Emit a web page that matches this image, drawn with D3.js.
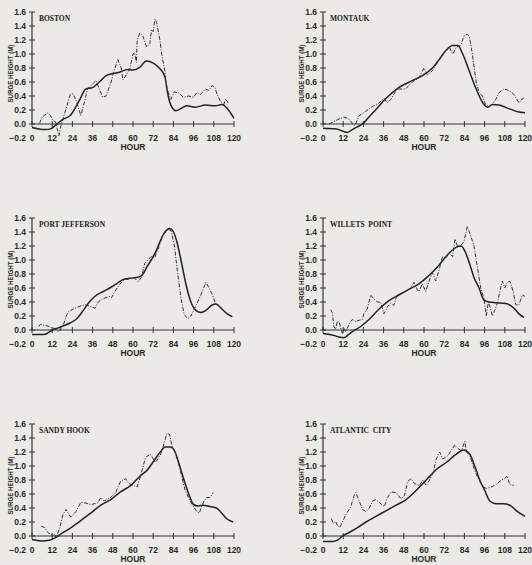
<!DOCTYPE html>
<html>
  <head>
    <meta http-equiv="Content-Type" content="text/html;charset=utf-8">
    <title>Surge height</title>
    <script src="https://d3js.org/d3.v7.min.js"></script>
    <style>
      html, body {
        margin: 0;
        padding: 0;
        background: #ebeae7;
      }
      svg { display: block; }
      .tick-label {
        font-family: "Liberation Sans", Arial, sans-serif;
        font-weight: bold;
        font-size: 8.5px;
        fill: #2a2a2a;
      }
      .title {
        font-family: "Liberation Serif", "Times New Roman", serif;
        font-weight: bold;
        font-size: 7.5px;
        fill: #222;
      }
      .computed {
        stroke: #222;
        stroke-width: 1.5px;
        fill: none;
      }
      .observed {
        stroke: #333;
        stroke-width: 1px;
        fill: none;
        stroke-dasharray: 4 1.5 1 1.5;
      }
    </style>
  </head>
  <body>
<script type="text/javascript">

var stations = ["BOSTON", "MONTAUK", "PORT JEFFERSON", "WILLETS  POINT", "SANDY HOOK", "ATLANTIC  CITY"];
var hourTicks = [0, 12, 24, 36, 48, 60, 72, 84, 96, 108, 120];
var heightTicks = [-0.2, 0.0, 0.2, 0.4, 0.6, 0.8, 1.0, 1.2, 1.4, 1.6];

// [hour, surge height] -- solid = computed, dash-dot = observed
var bostonComputed = [[0,-0.05],[4,-0.07],[8,-0.08],[11,-0.07],[14.4,-0.01],[18,0.06],[23,0.13],[28,0.33],[32,0.5],[36,0.52],[40,0.6],[44,0.69],[48,0.72],[52,0.74],[57,0.78],[60,0.77],[64,0.81],[68,0.9],[72,0.87],[76,0.79],[79,0.67],[80.5,0.45],[82.5,0.27],[85.5,0.19],[88.4,0.22],[92,0.26],[97,0.24],[103,0.27],[109,0.26],[113,0.28],[116,0.22],[120,0.08]];
var bostonObserved = [[4.5,0.01],[6,0.1],[9.5,0.16],[11,0.12],[12.4,0.05],[14,0.03],[16,-0.17],[17.4,0.0],[20,0.2],[22.7,0.42],[24.3,0.43],[26,0.35],[28,0.2],[29,0.12],[31,0.3],[33,0.5],[35,0.55],[38,0.62],[40,0.5],[42,0.38],[44,0.4],[47,0.6],[49,0.78],[51,0.92],[53,0.8],[54,0.63],[56,0.7],[58,0.78],[60,1.0],[61,1.02],[62,0.88],[62.5,1.2],[64,1.3],[66,1.25],[68,1.1],[70,1.15],[71,1.35],[72,1.32],[73,1.5],[74,1.45],[76,1.2],[77,1.0],[79,0.75],[79.5,0.6],[81,0.45],[82.5,0.35],[84.5,0.46],[87.4,0.44],[90,0.38],[93,0.4],[96,0.38],[98,0.45],[100,0.42],[103,0.5],[105,0.48],[107,0.55],[108.7,0.52],[110,0.42],[112,0.32],[114,0.28],[115,0.36],[116.6,0.3]];

var montaukComputed = [[0,-0.06],[8,-0.07],[11.5,-0.1],[14.5,-0.12],[17.4,-0.08],[20.4,-0.04],[23.4,0.0],[27.3,0.1],[32.3,0.23],[37.2,0.36],[45,0.52],[53,0.62],[59,0.69],[65,0.8],[69,0.92],[73,1.05],[77,1.12],[80,1.12],[83,1.0],[87,0.75],[91,0.5],[95,0.3],[98,0.24],[100.6,0.28],[104.5,0.27],[110.5,0.22],[116.4,0.17],[120,0.16]];
var montaukObserved = [[3.6,0.0],[8.5,0.06],[12.5,0.1],[15.4,0.07],[18.4,-0.02],[19.4,0.0],[21.4,0.12],[23.4,0.15],[25.3,0.18],[29.3,0.25],[33.3,0.3],[36.2,0.37],[38.2,0.3],[40.2,0.35],[44,0.5],[49,0.5],[53,0.6],[57,0.66],[60,0.8],[62,0.7],[65,0.76],[69,0.92],[73,1.05],[75,1.1],[77.2,1.0],[79.2,1.1],[81.8,1.12],[83.8,1.26],[85.7,1.28],[87,1.25],[88.7,1.0],[91,0.6],[92.7,0.45],[94.7,0.4],[96.6,0.28],[98.6,0.25],[100.6,0.28],[102.6,0.35],[104.6,0.45],[107.5,0.5],[110.5,0.48],[113.5,0.42],[116.4,0.3],[118.4,0.36],[120,0.38]];

var portJeffersonComputed = [[0,-0.065],[6.9,-0.065],[8.9,-0.05],[10.8,-0.02],[12.8,0.01],[15.7,0.03],[18.7,0.06],[22.6,0.1],[26.6,0.16],[30.5,0.28],[34.4,0.41],[38.4,0.5],[42.3,0.55],[46.2,0.6],[50.2,0.66],[54,0.72],[58,0.74],[62,0.75],[64,0.76],[66,0.8],[68,0.89],[70.8,1.0],[73.8,1.13],[76.7,1.3],[79.7,1.42],[81.6,1.45],[83.6,1.42],[85.6,1.3],[88.5,1.0],[91.5,0.65],[94.4,0.4],[97.4,0.28],[100.3,0.25],[103.3,0.28],[107.2,0.36],[109.2,0.37],[112,0.32],[116,0.23],[119,0.19]];
var portJeffersonObserved = [[4,0.05],[5,0.08],[8.9,0.06],[11.8,0.03],[13.8,0.02],[15.7,-0.03],[16.7,0.0],[18.7,0.08],[20.7,0.22],[21.6,0.26],[24.6,0.3],[28.5,0.34],[31.5,0.36],[34.4,0.34],[37.4,0.31],[39.3,0.4],[42.3,0.45],[46.2,0.48],[47.2,0.46],[49.2,0.55],[52,0.65],[55,0.72],[58,0.73],[61,0.74],[63,0.69],[65,0.75],[67,0.95],[68.8,1.0],[70.8,1.05],[72.8,1.03],[74.8,1.15],[77.7,1.35],[80.7,1.44],[82.6,1.42],[84.6,1.2],[86.6,0.8],[88.5,0.45],[90.5,0.22],[92.5,0.16],[94.4,0.2],[97.4,0.35],[100.3,0.5],[103.3,0.68],[105.2,0.6],[107.2,0.5],[109.2,0.37]];

var willetsComputed = [[0,-0.05],[5.5,-0.07],[9.5,-0.1],[12.5,-0.11],[15.4,-0.06],[18.4,-0.01],[22.4,0.05],[27.3,0.15],[33.3,0.3],[39.2,0.42],[45,0.5],[51,0.58],[57,0.66],[63,0.78],[69,0.93],[75,1.1],[79,1.18],[82,1.2],[84.8,1.1],[87.7,0.9],[89.7,0.75],[92.7,0.6],[95.6,0.43],[98.6,0.4],[102.6,0.39],[108.5,0.38],[113.5,0.31],[116.4,0.23],[119.4,0.18]];
var willetsObserved = [[4.6,0.29],[5.5,0.25],[6.5,0.05],[7.5,0.01],[8.5,0.13],[9.5,0.12],[10.5,0.03],[11.5,-0.05],[12.5,0.02],[13.5,-0.03],[15.4,0.08],[17.4,0.15],[19.4,0.12],[21.4,0.14],[23.4,0.15],[24.4,0.24],[26.3,0.3],[28.3,0.5],[30.3,0.44],[32.3,0.4],[34.2,0.4],[36.2,0.23],[38.2,0.33],[40.2,0.38],[42,0.35],[44,0.5],[46,0.52],[49,0.55],[52,0.6],[54,0.68],[56,0.58],[57,0.55],[59,0.66],[61,0.55],[63,0.7],[65,0.82],[67,0.7],[69,0.86],[71,1.05],[73,1.03],[75,1.1],[77,1.05],[78.4,1.3],[79.8,1.2],[81.8,1.2],[83.8,1.27],[85.7,1.48],[87.7,1.35],[89.7,1.2],[91.7,0.9],[93.7,0.6],[95.6,0.45],[97,0.2],[98.2,0.4],[99.6,0.3],[100.6,0.2],[102,0.28],[103.6,0.38],[104.6,0.5],[106.5,0.7],[108,0.6],[109.5,0.68],[111,0.7],[113,0.55],[114.5,0.36],[116.4,0.36],[118.4,0.5],[120,0.48]];

var sandyHookComputed = [[0,-0.05],[5.5,-0.07],[10.4,-0.06],[13.4,-0.03],[17.3,0.03],[23.2,0.12],[29,0.22],[35,0.33],[40.9,0.44],[46.8,0.52],[52.6,0.63],[58.5,0.72],[64.4,0.86],[68.4,0.94],[72.3,1.07],[76.2,1.2],[79.2,1.27],[82.1,1.27],[85,1.2],[88,0.98],[91,0.75],[93.9,0.55],[96,0.45],[98.8,0.43],[101.8,0.44],[105.7,0.42],[109.6,0.4],[112.6,0.33],[115.5,0.25],[119.5,0.2]];
var sandyHookObserved = [[5.5,0.14],[7.5,0.12],[9.4,0.05],[11.4,0.02],[13.4,0.02],[14.3,-0.02],[16.3,0.1],[18.3,0.3],[20.2,0.38],[22.2,0.3],[23.2,0.27],[26.1,0.35],[29,0.48],[32,0.47],[35,0.45],[38.9,0.47],[40.9,0.55],[42.8,0.5],[46.8,0.55],[49.7,0.62],[52.6,0.78],[55.6,0.82],[57.5,0.75],[60.5,0.72],[62.5,0.7],[64.4,0.85],[67.4,1.12],[70.3,1.17],[73.3,1.05],[76.2,1.15],[78.2,1.3],[80.2,1.47],[81.7,1.45],[83,1.3],[85,1.2],[88,0.95],[91,0.65],[93.9,0.5],[96,0.42],[97.8,0.35],[99.4,0.33],[100.8,0.42],[102.2,0.5],[103.7,0.55],[105.7,0.55],[107.7,0.62]];

var atlanticComputed = [[0,-0.08],[5.6,-0.08],[8.6,-0.06],[11.5,0.0],[15.5,0.05],[20.5,0.12],[25.5,0.2],[31.4,0.28],[37.4,0.36],[43.4,0.44],[49.4,0.52],[55.3,0.65],[61.3,0.8],[67.3,0.95],[73.2,1.05],[79.2,1.17],[83.2,1.23],[87.2,1.17],[90.1,1.0],[93.1,0.8],[96.1,0.65],[99.1,0.5],[103,0.46],[107,0.46],[111,0.44],[115,0.36],[120,0.28]];
var atlanticObserved = [[5,0.25],[6,0.18],[7.6,0.2],[8.6,0.15],[10,0.12],[11.5,0.2],[13.5,0.3],[16.5,0.42],[18.5,0.58],[19.5,0.62],[21.5,0.5],[23.5,0.38],[25.5,0.35],[27.5,0.4],[29.5,0.5],[31.4,0.52],[33.4,0.48],[36.4,0.42],[38.4,0.55],[40.4,0.63],[43.4,0.62],[46.4,0.53],[48.4,0.58],[50.3,0.78],[52.3,0.82],[54.3,0.75],[57.3,0.72],[59.3,0.8],[61.3,0.72],[63.3,0.8],[65.3,0.9],[67.3,1.1],[69.3,1.2],[71.2,1.1],[74.2,1.15],[76.2,1.22],[78.2,1.3],[80.2,1.25],[82.2,1.22],[84.2,1.35],[85.2,1.2],[87.2,1.15],[89.2,1.0],[91.1,0.88],[93.1,0.78],[95.1,0.7],[97.1,0.68],[100,0.7],[103,0.74],[106,0.8],[108,0.82],[109.5,0.86],[110.7,0.75],[112,0.72],[113.4,0.73]];

var computed = [bostonComputed, montaukComputed, portJeffersonComputed, willetsComputed, sandyHookComputed, atlanticComputed];
var observed = [bostonObserved, montaukObserved, portJeffersonObserved, willetsObserved, sandyHookObserved, atlanticObserved];

var W = 532, H = 565;
var colLeft = [32, 323];
var rowTop = [12, 218, 424];
var plotW = 202, plotH = 126;

var svg = d3.select("body").append("svg")
  .attr("width", W)
  .attr("height", H);

stations.forEach(function(name, i) {
  var x0 = colLeft[i % 2], top = rowTop[Math.floor(i / 2)];
  var x = d3.scaleLinear().domain([0, 120]).range([x0, x0 + plotW]);
  var y = d3.scaleLinear().domain([-0.2, 1.6]).range([top + plotH, top]);
  var g = svg.append("g");

  // y axis with cross ticks
  g.append("line")
    .attr("x1", x(0)).attr("x2", x(0))
    .attr("y1", y(1.6)).attr("y2", y(0))
    .attr("stroke", "#333").attr("stroke-width", 1.2);
  g.selectAll(".yt").data(heightTicks.filter(function(d) { return d >= 0; }))
    .enter().append("line")
    .attr("x1", x(0) - 3).attr("x2", x(0) + 3)
    .attr("y1", function(d) { return y(d); })
    .attr("y2", function(d) { return y(d); })
    .attr("stroke", "#333").attr("stroke-width", 1);
  g.selectAll(".yl").data(heightTicks)
    .enter().append("text")
    .attr("class", "tick-label")
    .attr("x", x(0) - 6)
    .attr("y", function(d) { return y(d); })
    .attr("dy", "0.35em")
    .attr("text-anchor", "end")
    .text(function(d) { return d3.format(".1f")(d); });

  // x axis at zero
  g.append("line")
    .attr("x1", x(0)).attr("x2", x(120))
    .attr("y1", y(0)).attr("y2", y(0))
    .attr("stroke", "#333").attr("stroke-width", 1.2);
  g.selectAll(".xt").data(hourTicks)
    .enter().append("line")
    .attr("x1", function(d) { return x(d); })
    .attr("x2", function(d) { return x(d); })
    .attr("y1", y(0) - 3).attr("y2", y(0) + 3)
    .attr("stroke", "#333").attr("stroke-width", 1);
  g.selectAll(".xl").data(hourTicks)
    .enter().append("text")
    .attr("class", "tick-label")
    .attr("x", function(d) { return x(d); })
    .attr("y", y(-0.2))
    .attr("dy", "0.35em")
    .attr("text-anchor", "middle")
    .text(function(d) { return d; });

  g.append("text")
    .attr("class", "tick-label")
    .attr("x", x(60))
    .attr("y", y(-0.2) + 12)
    .attr("text-anchor", "middle")
    .text("HOUR");

  g.append("text")
    .attr("class", "tick-label")
    .attr("transform", "translate(" + (x(0) - 22) + "," + (y(0.72)) + ") rotate(-90)")
    .attr("dy", "0.35em")
    .attr("text-anchor", "middle")
    .attr("textLength", 58)
    .attr("lengthAdjust", "spacingAndGlyphs")
    .style("font-size", "7.5px")
    .text("SURGE HEIGHT (M)");

  g.append("text")
    .attr("class", "title")
    .attr("x", x0 + 7)
    .attr("y", top + 9)
    .attr("xml:space", "preserve")
    .style("white-space", "pre")
    .text(name);

  var solid = d3.line()
    .x(function(d) { return x(d[0]); })
    .y(function(d) { return y(d[1]); })
    .curve(d3.curveMonotoneX);
  var dashed = d3.line()
    .x(function(d) { return x(d[0]); })
    .y(function(d) { return y(d[1]); });

  g.append("path").attr("class", "computed").attr("d", solid(computed[i]));
  g.append("path").attr("class", "observed").attr("d", dashed(observed[i]));
});

</script>
  </body>
</html>
